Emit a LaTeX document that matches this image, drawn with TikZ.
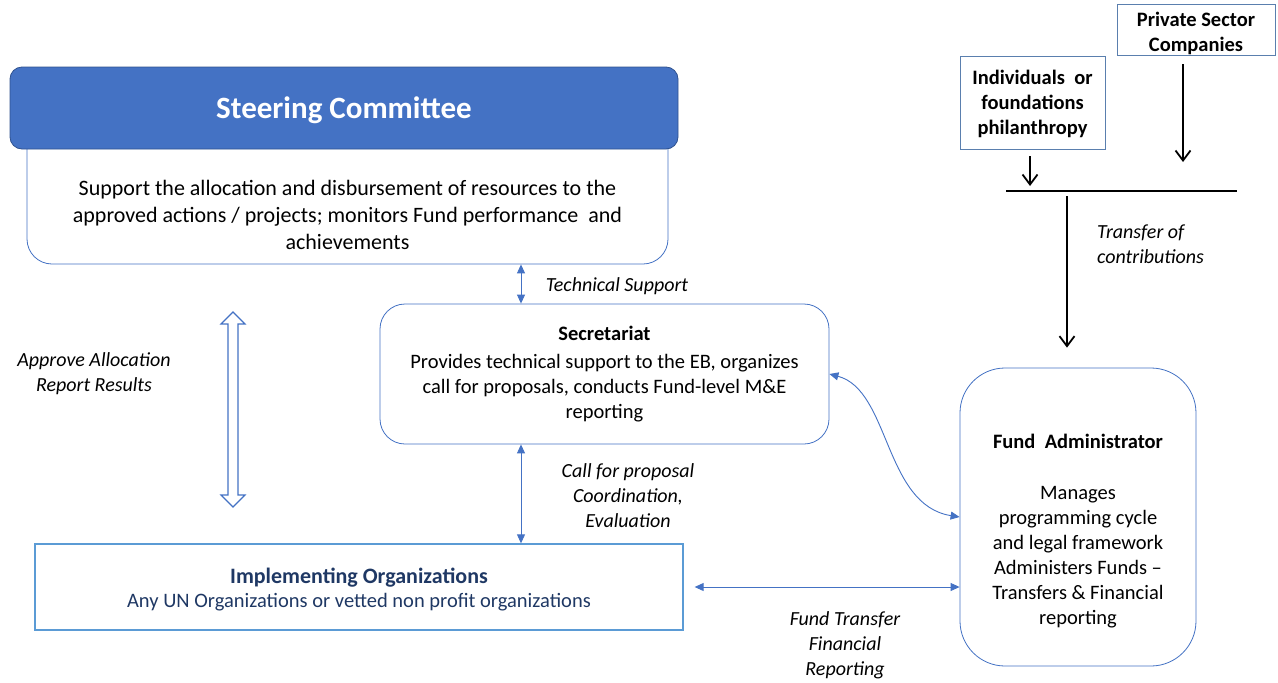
\documentclass[tikz,border=0pt]{standalone}
\usepackage{fontspec}
\setmainfont{Carlito}
\usetikzlibrary{arrows.meta,calc}
\definecolor{hdr}{HTML}{4472C4}
\definecolor{hdrb}{HTML}{2F528F}
\definecolor{lb}{HTML}{4472C4}
\definecolor{ib}{HTML}{5B9BD5}
\definecolor{navy}{HTML}{1F3864}
\definecolor{sb}{HTML}{5A7FAE}
\tikzset{
  box/.style={draw=lb, line width=0.8pt, fill=white, inner sep=0pt},
  lbl/.style={font=\fontsize{20}{25}\selectfont\itshape, align=center, inner sep=0pt},
  txt/.style={font=\fontsize{20.5}{25}\selectfont, align=center, inner sep=0pt},
  barrow/.style={draw=lb, line width=0.9pt, {Triangle[length=9pt,width=8pt]}-{Triangle[length=9pt,width=8pt]}},
  karrow/.style={draw=black, line width=1.8pt, -{Straight Barb[length=10pt,width=15pt]}},
  srcbox/.style={draw=sb, line width=0.8pt, inner sep=0pt},
  srctxt/.style={inner sep=0pt, font=\fontsize{20.5}{25}\selectfont\bfseries, align=center}
}
\begin{document}
\begin{tikzpicture}[x=1pt,y=-1pt]
\useasboundingbox (0,0) rectangle (1278,683);
% Steering committee
\node[box, rounded corners=25pt, minimum width=641pt, minimum height=164pt] (scb) at (347.5,182) {};
\node[draw=hdrb, fill=hdr, line width=0.8pt, rounded corners=12pt, minimum width=668pt, minimum height=82pt, inner sep=0pt] (sch) at (344,108) {};
\node[text=white, font=\fontsize{31}{36}\selectfont\bfseries, inner sep=0pt] (scht) at (344,110) {Steering Committee};
\node[font=\fontsize{22}{27}\selectfont, align=center, inner sep=0pt] (sct) at (347.5,214.5)
  {Support the allocation and disbursement of resources to the\\approved actions / projects; monitors Fund performance\ \ and\\achievements};
% Secretariat
\node[box, rounded corners=25pt, minimum width=449pt, minimum height=140pt, txt] (sec) at (604.5,374)
  {\textbf{Secretariat}\\[3pt]Provides technical support to the EB, organizes\\call for proposals, conducts Fund-level M\&E\\reporting};
% Implementing organizations
\node[draw=ib, line width=1.3pt, minimum width=648pt, minimum height=86pt, inner sep=0pt] (io) at (359,587) {};
\node[inner sep=0pt, align=center] (iot) at (359,590)
  {{\fontsize{22}{26}\selectfont\bfseries\color{navy}Implementing Organizations}\\[5pt]
   {\fontsize{20.5}{25}\selectfont\color{navy}Any UN Organizations or vetted non profit organizations}};
% Fund administrator
\node[box, rounded corners=45pt, minimum width=236pt, minimum height=298pt] (fa) at (1078,517) {};
\node[txt] (fat) at (1078,531.5)
  {\textbf{Fund\ \ Administrator}\\[26pt]Manages\\programming cycle\\and legal framework\\Administers Funds --\\Transfers \& Financial\\reporting};
% Sources
\node[srcbox, minimum width=158pt, minimum height=51pt] (psc) at (1196,29.5) {};
\node[srctxt] (psct) at (1196,33) {Private Sector\\Companies};
\node[srcbox, minimum width=145pt, minimum height=93pt] (ind) at (1032.5,102.5) {};
\node[srctxt] (indt) at (1032.5,103.5) {Individuals\ \ or\\foundations\\philanthropy};
% coordinates
\coordinate (tx) at (521,0);
\coordinate (px) at (1183,0);
\coordinate (ix) at (1030,0);
\coordinate (dx) at (1067,0);
\coordinate (bar1) at (1006,191);
\coordinate (bar2) at (1237,191);
% connectors
\draw[barrow] (scb.south -| tx) -- (sec.north -| tx);
\draw[barrow] (sec.south -| tx) -- (io.north -| tx);
\draw[barrow] ([xshift=11pt]io.east) -- (io.east -| fa.west);
\draw[barrow] (sec.east) .. controls (890,390) and (884,505) .. (fa.west);
\draw[karrow, shorten <=9pt] (psc.south -| px) -- (px |- 0,162);
\draw[karrow, shorten <=7pt, shorten >=5pt] (ind.south -| ix) -- (ix |- bar1);
\draw[line width=1.8pt] (bar1) -- (bar2);
\draw[karrow, shorten <=5pt, shorten >=20pt] (dx |- bar1) -- (fa.north -| dx);
% hollow double arrow
\draw[draw=lb, line width=1.1pt, fill=white, line join=miter]
  (233,312) -- (245,324) -- (238,324) -- (238,495) -- (245,495) -- (233,507) -- (221,495) -- (228,495) -- (228,324) -- (221,324) -- cycle;
% labels
\node[lbl] (l1) at (617,286) {Technical Support};
\node[lbl] (l2) at (628,495.5) {Call for proposal\\Coordination,\\Evaluation};
\node[lbl] (l3) at (94,373.5) {Approve Allocation\\Report Results};
\node[lbl, align=left, anchor=west] (l4) at (1097,244) {Transfer of\\contributions};
\node[lbl] (l5) at (845,645.5) {Fund Transfer\\Financial\\Reporting};
\end{tikzpicture}
\end{document}
